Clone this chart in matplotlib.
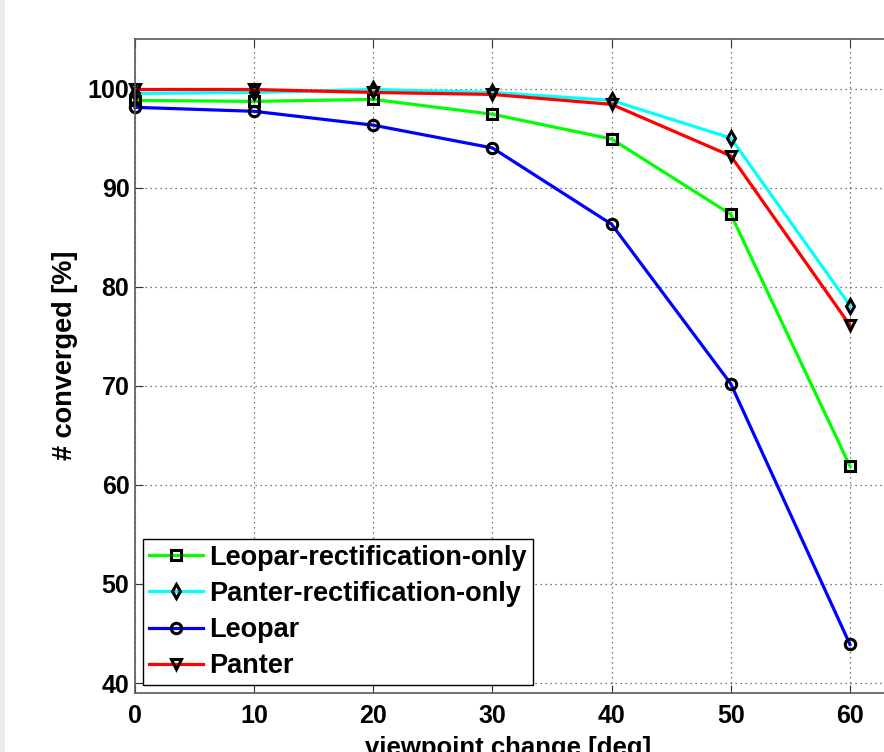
import matplotlib.pyplot as plt
from matplotlib.patches import Rectangle

# 視点変化 [deg]
viewpoint = [0, 10, 20, 30, 40, 50, 60]

# 各手法の収束率 [%]
leopar_rect = [98.8, 98.7, 98.9, 97.4, 94.9, 87.3, 61.9]
panter_rect = [99.5, 99.6, 99.9, 99.6, 98.8, 95.0, 78.1]
leopar = [98.1, 97.7, 96.3, 94.0, 86.3, 70.2, 43.9]
panter = [99.9, 99.9, 99.6, 99.4, 98.4, 93.2, 76.1]

labels = ["Leopar-rectification-only", "Panter-rectification-only",
          "Leopar", "Panter"]
x_ticks = [0, 10, 20, 30, 40, 50, 60]
y_ticks = [40, 50, 60, 70, 80, 90, 100]

plt.rcParams['font.family'] = ['Liberation Sans', 'DejaVu Sans']
plt.rcParams['font.weight'] = 'bold'

fig = plt.figure(figsize=(8.84, 7.52), dpi=100)
# 左端の薄いグレーの帯
fig.patches.append(Rectangle((0, 0), 5 / 884, 1, transform=fig.transFigure,
                             facecolor="#ececec", edgecolor="none"))
ax = fig.add_axes([0.1527, 0.0785, 0.8654, 0.8697])

series = [
    (leopar_rect, "#00ff00", "s"),
    (panter_rect, "#00ffff", "d"),
    (leopar, "#0000ff", "o"),
    (panter, "#ff0000", "v"),
]
for (values, color, marker), label in zip(series, labels):
    ax.plot(viewpoint, values, color=color, linewidth=2.3, marker=marker,
            markersize=7.5, markeredgecolor="black", markeredgewidth=2.2,
            markerfacecolor="none", label=label, clip_on=False)

ax.set_xlim(0, 64.2)
ax.set_ylim(39, 105)
ax.set_xticks(x_ticks)
ax.set_yticks(y_ticks)
ax.tick_params(direction="in", length=6, labelsize=18,
               top=True, right=True, color="0.2")
ax.tick_params(axis="x", pad=8)
ax.tick_params(axis="y", pad=4)
for lab in ax.get_xticklabels() + ax.get_yticklabels():
    lab.set_fontweight("bold")

ax.grid(True, linestyle=(0, (1, 3)), color="0.3", linewidth=0.9)
for spine in ax.spines.values():
    spine.set_color("0.35")
    spine.set_linewidth(1.2)

ax.set_xlabel("viewpoint change [deg]", fontsize=18.5, fontweight="bold",
              va="top")
ax.xaxis.set_label_coords(0.488, -0.066)
ax.set_ylabel("# converged [%]", fontsize=19.5, fontweight="bold",
              va="center")
ax.yaxis.set_label_coords(-0.092, 0.517)

leg = ax.legend(loc="lower left", frameon=True, fancybox=False,
                framealpha=1, edgecolor="black", handlelength=2.0,
                handletextpad=0.25, borderpad=0.2, labelspacing=0.38,
                borderaxespad=0.3, prop={"weight": "bold", "size": 19.5})
leg.get_frame().set_linewidth(1.0)

fig.savefig("out.png", dpi=100)
